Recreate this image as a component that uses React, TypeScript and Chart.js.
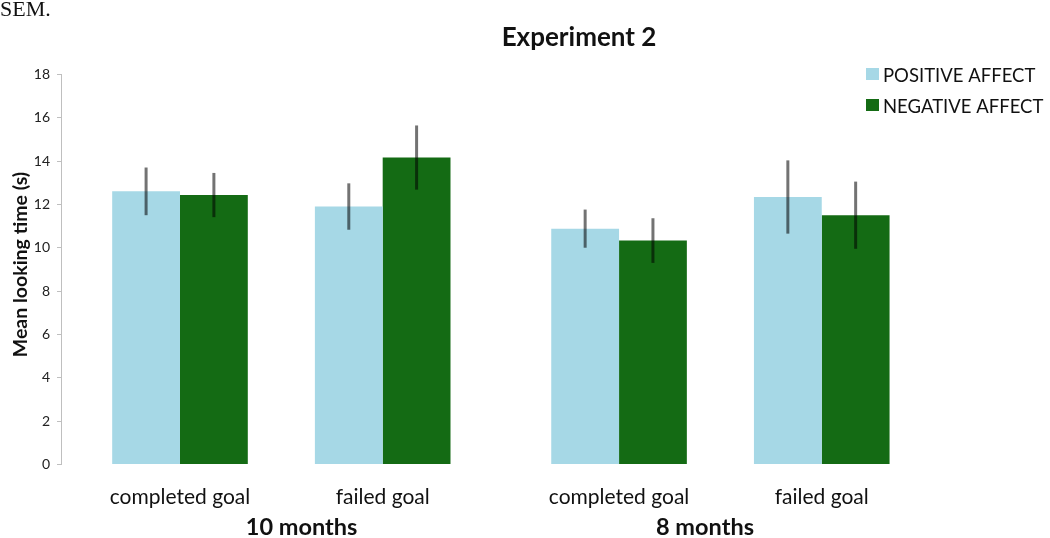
import React, { useEffect, useRef } from "react";
import { Chart, registerables } from "chart.js";

Chart.register(...registerables);

// ---- data ----
const categories = ["completed goal", "failed goal", "completed goal", "failed goal"];
const ageGroups = ["10 months", "8 months"];
const seriesNames = ["POSITIVE AFFECT", "NEGATIVE AFFECT"];
const positiveMeans = [12.6, 11.9, 10.88, 12.34];
const positiveSem = [1.1, 1.07, 0.88, 1.69];
const negativeMeans = [12.43, 14.16, 10.33, 11.5];
const negativeSem = [1.02, 1.48, 1.03, 1.55];
const yMin = 0;
const yMax = 18;
const yStep = 2;
const chartTitle = "Experiment 2";
const yAxisTitle = "Mean looking time (s)";
const captionFragment = "SEM.";

// ---- layout (not data) ----
const slotPositions = [0, 1, 2.166, 3.166];
const groupLabelPositions = [0.6, 2.59];
const semBySeries = [positiveSem, negativeSem];
const colors = ["#a6d8e6", "#146b14"];
const FONT = "Lato, 'Open Sans', sans-serif";

const overlay = {
  id: "overlay",
  afterDatasetsDraw(chart: any) {
    const ctx = chart.ctx;
    const ys = chart.scales.y;
    ctx.save();
    ctx.strokeStyle = "rgba(0,0,0,0.55)";
    ctx.lineWidth = 3;
    chart.data.datasets.forEach((ds: any, di: number) => {
      const meta = chart.getDatasetMeta(di);
      const sems = semBySeries[di];
      meta.data.forEach((bar: any, i: number) => {
        const v = ds.data[i].y;
        ctx.beginPath();
        ctx.moveTo(bar.x, ys.getPixelForValue(v + sems[i]));
        ctx.lineTo(bar.x, ys.getPixelForValue(v - sems[i]));
        ctx.stroke();
      });
    });
    ctx.restore();
  },
  afterDraw(chart: any) {
    const ctx = chart.ctx;
    const xs = chart.scales.x;
    ctx.save();
    ctx.fillStyle = "#111";
    // caption fragment
    ctx.font = "22px 'Liberation Serif', serif";
    ctx.textAlign = "left";
    ctx.textBaseline = "alphabetic";
    ctx.fillText(captionFragment, 0, 15.5);
    // title
    ctx.font = `bold 26px ${FONT}`;
    ctx.textAlign = "center";
    ctx.fillText(chartTitle, 579, 46);
    // group labels
    ctx.font = `bold 23.5px ${FONT}`;
    ageGroups.forEach((g, i) => {
      ctx.fillText(g, xs.getPixelForValue(groupLabelPositions[i]), 535);
    });
    // y title
    ctx.save();
    ctx.translate(20.5, 264.5);
    ctx.rotate(-Math.PI / 2);
    ctx.font = `bold 19.5px ${FONT}`;
    ctx.textBaseline = "middle";
    ctx.fillText(yAxisTitle, 0, 0);
    ctx.restore();
    // legend
    ctx.font = `18.5px ${FONT}`;
    ctx.textAlign = "left";
    ctx.textBaseline = "alphabetic";
    chart.data.datasets.forEach((ds: any, i: number) => {
      const top = 68 + i * 31;
      ctx.fillStyle = ds.backgroundColor;
      ctx.fillRect(866, top, 13, 12);
      ctx.fillStyle = "#111";
      ctx.fillText(ds.label, 883, top + 13.5);
    });
    ctx.restore();
  },
};

export default function App() {
  const canvasRef = useRef<HTMLCanvasElement>(null);

  useEffect(() => {
    document.body.style.margin = "0";
    document.body.style.overflow = "hidden";
    const canvas = canvasRef.current!;
    const chart = new Chart(canvas, {
      type: "bar",
      data: {
        datasets: [
          {
            label: seriesNames[0],
            data: positiveMeans.map((v, i) => ({ x: slotPositions[i], y: v })),
            backgroundColor: colors[0],
            borderWidth: 0,
          },
          {
            label: seriesNames[1],
            data: negativeMeans.map((v, i) => ({ x: slotPositions[i], y: v })),
            backgroundColor: colors[1],
            borderWidth: 0,
          },
        ],
      },
      options: {
        animation: false,
        responsive: false,
        devicePixelRatio: 1,
        layout: { padding: { top: 74.3, left: 0, right: 0, bottom: 0 } },
        datasets: { bar: { categoryPercentage: 0.669, barPercentage: 1 } },
        plugins: {
          legend: { display: false },
          title: { display: false },
          tooltip: { enabled: false },
        },
        scales: {
          x: {
            type: "linear",
            offset: false,
            min: -0.587,
            max: 4.292,
            grid: { display: false, offset: false },
            border: { display: false },
            afterBuildTicks: (scale: any) => {
              scale.ticks = slotPositions.map((v) => ({ value: v }));
            },
            afterFit: (scale: any) => {
              scale.height = 73.5;
            },
            ticks: {
              autoSkip: false,
              maxRotation: 0,
              padding: 12,
              color: "#111",
              font: { family: FONT, size: 21 },
              callback: (_v: any, i: number) => categories[i],
            },
          },
          y: {
            min: yMin,
            max: yMax,
            afterFit: (scale: any) => {
              scale.width = 61;
            },
            grid: {
              display: true,
              drawOnChartArea: false,
              drawTicks: true,
              tickLength: 4,
              color: "#bfbfbf",
            },
            border: { display: true, color: "#bfbfbf", width: 1 },
            ticks: {
              stepSize: yStep,
              padding: 7,
              color: "#222",
              font: { family: FONT, size: 14 },
            },
          },
        },
      },
      plugins: [overlay],
    });
    return () => chart.destroy();
  }, []);

  return (
    <div style={{ width: 1050, height: 538 }}>
      <canvas ref={canvasRef} width={1050} height={538} />
    </div>
  );
}
